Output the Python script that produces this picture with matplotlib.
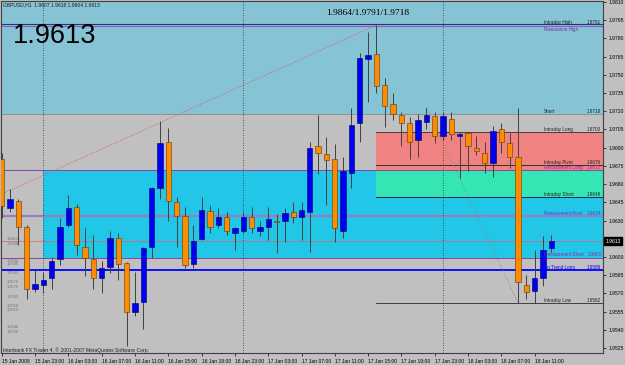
import numpy as np
import matplotlib
matplotlib.use("Agg")
import matplotlib.pyplot as plt
import matplotlib.transforms as mtransforms

# GBPUSD H1, first bar = 15 Jan 2008 19:00
opens = [1.9681, 1.9640, 1.9646, 1.9625, 1.9574, 1.9577, 1.9583, 1.9598, 1.9626, 1.9641,
         1.9608, 1.9598, 1.9583, 1.9592, 1.9616, 1.9595, 1.9555, 1.9563, 1.9608, 1.9657,
         1.9695, 1.9645, 1.9634, 1.9594, 1.9615, 1.9638, 1.9626, 1.9633, 1.9620, 1.9621,
         1.9633, 1.9621, 1.9625, 1.9630, 1.9630, 1.9637, 1.9633, 1.9637, 1.9691, 1.9685,
         1.9681, 1.9621, 1.9669, 1.9710, 1.9763, 1.9767, 1.9742, 1.9726, 1.9717, 1.9710,
         1.9696, 1.9711, 1.9716, 1.9700, 1.9714, 1.9700, 1.9702, 1.9690, 1.9686, 1.9677,
         1.9705, 1.9694, 1.9682, 1.9577, 1.9572, 1.9583, 1.9607]
highs = [1.9686, 1.9656, 1.9648, 1.9626, 1.9589, 1.9588, 1.9600, 1.9632, 1.9651, 1.9644,
         1.9624, 1.9618, 1.9597, 1.9621, 1.9620, 1.9596, 1.9588, 1.9608, 1.9658, 1.9712,
         1.9706, 1.9649, 1.9641, 1.9626, 1.9649, 1.9643, 1.9640, 1.9637, 1.9625, 1.9637,
         1.9641, 1.9630, 1.9641, 1.9635, 1.9640, 1.9645, 1.9645, 1.9695, 1.9717, 1.9699,
         1.9693, 1.9682, 1.9723, 1.9768, 1.9785, 1.9791, 1.9747, 1.9735, 1.9719, 1.9715,
         1.9718, 1.9723, 1.9719, 1.9719, 1.9719, 1.9703, 1.9703, 1.9700, 1.9695, 1.9708,
         1.9710, 1.9702, 1.9723, 1.9585, 1.9606, 1.9617, 1.9618]
lows = [1.9632, 1.9637, 1.9610, 1.9565, 1.9571, 1.9570, 1.9574, 1.9593, 1.9625, 1.9602,
        1.9584, 1.9574, 1.9570, 1.9587, 1.9581, 1.9527, 1.9551, 1.9541, 1.9599, 1.9648,
        1.9630, 1.9608, 1.9591, 1.9591, 1.9614, 1.9620, 1.9624, 1.9618, 1.9606, 1.9620,
        1.9620, 1.9617, 1.9614, 1.9603, 1.9612, 1.9628, 1.9614, 1.9604, 1.9668, 1.9643,
        1.9612, 1.9616, 1.9657, 1.9695, 1.9728, 1.9735, 1.9707, 1.9713, 1.9691, 1.9681,
        1.9682, 1.9705, 1.9694, 1.9696, 1.9696, 1.9665, 1.9671, 1.9684, 1.9669, 1.9666,
        1.9686, 1.9673, 1.9562, 1.9565, 1.9562, 1.9576, 1.9604]
closes = [1.9642, 1.9648, 1.9625, 1.9574, 1.9578, 1.9581, 1.9597, 1.9625, 1.9640, 1.9610,
          1.9599, 1.9583, 1.9591, 1.9616, 1.9594, 1.9555, 1.9562, 1.9607, 1.9657, 1.9694,
          1.9646, 1.9634, 1.9593, 1.9613, 1.9639, 1.9625, 1.9633, 1.9621, 1.9624, 1.9633,
          1.9624, 1.9625, 1.9631, 1.9629, 1.9636, 1.9633, 1.9639, 1.9690, 1.9686, 1.9680,
          1.9624, 1.9671, 1.9709, 1.9764, 1.9766, 1.9741, 1.9724, 1.9718, 1.9710, 1.9695,
          1.9713, 1.9717, 1.9700, 1.9716, 1.9701, 1.9701, 1.9691, 1.9687, 1.9677, 1.9704,
          1.9695, 1.9682, 1.9579, 1.9571, 1.9583, 1.9606, 1.9613]

time_labels = ["15 Jan 2008", "15 Jan 23:00", "16 Jan 03:00", "16 Jan 07:00", "16 Jan 11:00",
               "16 Jan 15:00", "16 Jan 19:00", "16 Jan 23:00", "17 Jan 03:00", "17 Jan 07:00",
               "17 Jan 11:00", "17 Jan 15:00", "17 Jan 19:00", "17 Jan 23:00", "18 Jan 03:00",
               "18 Jan 07:00", "18 Jan 11:00"]
time_label_bars = [0, 4, 8, 12, 16, 20, 24, 28, 32, 36, 40, 44, 48, 52, 56, 60, 64]
day_separators = [5, 29, 53]

price_ticks = [1.9525, 1.9540, 1.9555, 1.9570, 1.9585, 1.9600, 1.9615, 1.9630, 1.9645,
               1.9660, 1.9675, 1.9690, 1.9705, 1.9720, 1.9735, 1.9750, 1.9765, 1.9780,
               1.9795, 1.9810]

level_names = ["Intraday High", "Short", "Intraday Long", "Intraday Pivot",
               "Retracement Long", "Intraday Short", "Retracement Pivot", "Retracement Short",
               "Up Trend Long", "Intraday Low"]
level_prices = [1.9791, 1.9718, 1.9703, 1.9676, 1.9672, 1.9649, 1.9634, 1.9600,
                1.9589, 1.9562]
level_colors = ["#202020", "#202020", "#202020", "#202020", "#a020a0",
                "#202020", "#5040d0", "#a020a0", "#0000ff", "#202020"]

# small price notes at the left edge, and where they sit
left_notes = ["1.9613", "1.9608", "1.9594", "1.9590", "1.9582", "1.9576", "1.9571",
              "1.9565", "1.9556", "1.9554", "1.9540", "1.9536"]
left_note_y = [1.9615, 1.9611, 1.9597, 1.9594, 1.9587, 1.9579, 1.9575, 1.9567, 1.9560,
               1.9556, 1.9542, 1.9538]

last_price = 1.9613
pivots_text = "1.9864/1.9791/1.9718"

BG = "#c0c0c0"
fig = plt.figure(figsize=(6.25, 3.65), dpi=100)
fig.patch.set_facecolor(BG)
ax = fig.add_axes([1/625, 12/365, 602/625, 352/365])
ax.set_facecolor(BG)
ax.set_xlim(-0.08, 72.2)
ax.set_ylim(1.95209, 1.98108)

# zones
ax.axhspan(1.9718, 1.9811, color="#86c3d5", zorder=0, lw=0)
ax.fill_between([4.96, 73], 1.9599, 1.9672, color="#22c6e6", zorder=0, lw=0)
ax.fill_between([44.95, 73], 1.9672, 1.9703, color="#f08282", zorder=0.5, lw=0)
ax.fill_between([44.95, 73], 1.9649, 1.9672, color="#34e6b4", zorder=0.5, lw=0)

# level lines
ax.axhline(1.9792, color="#303070", lw=0.8, zorder=1)
ax.axhline(1.97905, color="#8a5cc8", lw=0.8, zorder=1)
ax.axhline(1.9718, color="#8a8a8a", lw=0.6, zorder=1)
ax.axhline(1.9672, color="#9040a8", lw=0.7, zorder=1)
ax.axhline(1.9634, color="#9a7cc0", lw=1.6, zorder=1)
ax.axhline(1.9613, color="#e06078", lw=0.5, zorder=1)
ax.axhline(1.9599, color="#9040a8", lw=0.7, zorder=1)
ax.axhline(1.9589, color="#0000ff", lw=1.3, zorder=1)
for p, c in [(1.9703, "#404040"), (1.9676, "#303030"), (1.9649, "#202060"), (1.9562, "#404040")]:
    ax.plot([44.95, 73], [p, p], color=c, lw=0.7, zorder=1.2)

# day separators
for d in day_separators:
    ax.axvline(d, color="#303030", lw=0.6, ls=(0, (1, 2)), zorder=1)

# trend lines
ax.plot([0.4, 45], [1.9653, 1.9791], color="#e06070", lw=0.7, ls=(0, (1, 1.5)), zorder=1.5)
ax.plot([51, 62], [1.9723, 1.9562], color="#8c8c8c", lw=0.7, ls=(0, (1, 1.5)), zorder=1.5)

# candles
x = np.arange(len(opens))
o = np.array(opens)
c = np.array(closes)
up = c >= o
ax.vlines(x, lows, highs, color="#404040", lw=0.7, zorder=2)
body_lo = np.minimum(o, c)
body_h = np.maximum(np.abs(c - o), 0.00003)
ax.bar(x[up], body_h[up], bottom=body_lo[up], width=0.64, color="#0000f0",
       edgecolor="#000060", linewidth=0.4, zorder=3)
ax.bar(x[~up], body_h[~up], bottom=body_lo[~up], width=0.64, color="#ff8c00",
       edgecolor="#5a3a10", linewidth=0.4, zorder=3)

# axes styling
for s in ax.spines.values():
    s.set_color("#404040")
    s.set_linewidth(0.8)
ax.yaxis.tick_right()
ax.set_yticks(price_ticks)
# the last-price box covers the 1.9615 label
ax.set_yticklabels(["" if abs(v - 1.9615) < 1e-6 else f"{v:.4f}" for v in price_ticks])
ax.tick_params(axis="y", length=2.5, width=0.5, pad=1.5, labelsize=3.6, colors="#000000")
ax.set_xticks(time_label_bars)
ax.set_xticklabels(time_labels)
ax.tick_params(axis="x", length=2.5, width=0.5, pad=1.5, labelsize=3.6, colors="#000000")
for lbl in ax.get_xticklabels():
    lbl.set_ha("left")
for lbl in ax.get_xticklabels() + ax.get_yticklabels():
    lbl.set_fontfamily("Liberation Sans")

trans = mtransforms.blended_transform_factory(ax.transAxes, ax.transData)
for name, p, col in zip(level_names, level_prices, level_colors):
    ax.text(0.902, p, name, transform=trans, ha="left", va="bottom", fontsize=3.3,
            color=col, family="Liberation Sans", zorder=5)
    ax.text(0.997, p, f"{p:.4f}", transform=trans, ha="right", va="bottom", fontsize=3.3,
            color=col, family="Liberation Sans", zorder=5)
# second label on the same high line, just under it
ax.text(0.902, 1.97895, "Resistance High", transform=trans, ha="left", va="top",
        fontsize=3.3, color="#7a2aa0", family="Liberation Sans", zorder=5)

for s, yv in zip(left_notes, left_note_y):
    ax.text(0.01, yv, s, transform=trans, ha="left", va="center", fontsize=2.8,
            color="#707070", family="Liberation Sans", zorder=5)

ax.text(1.004, last_price, f"{last_price:.4f}", transform=trans, ha="left", va="center",
        fontsize=3.6, color="white", family="Liberation Sans", clip_on=False, zorder=6,
        bbox=dict(boxstyle="square,pad=0.35", fc="black", ec="black"))

fig.text(3/625, 1 - 5/365, "GBPUSD,H1  1.9607 1.9618 1.9604 1.9613", fontsize=3.6,
         family="Liberation Sans", color="#202020", va="center", ha="left")
fig.text(12.5/625, 1 - 43/365, "1.9613", fontsize=19.5, family="Liberation Sans",
         color="black", va="baseline", ha="left")
fig.text(368/625, 1 - 13/365, pivots_text, fontsize=6.8, family="Liberation Serif",
         color="black", va="center", ha="center")
fig.text(3/625, 1 - 350/365, "Interbank FX Trader 4, \u00a9 2001-2007 MetaQuotes Software Corp.",
         fontsize=3.6, family="Liberation Sans", color="#202020", va="center", ha="left")

fig.savefig("out.png", dpi=100, facecolor=BG)
